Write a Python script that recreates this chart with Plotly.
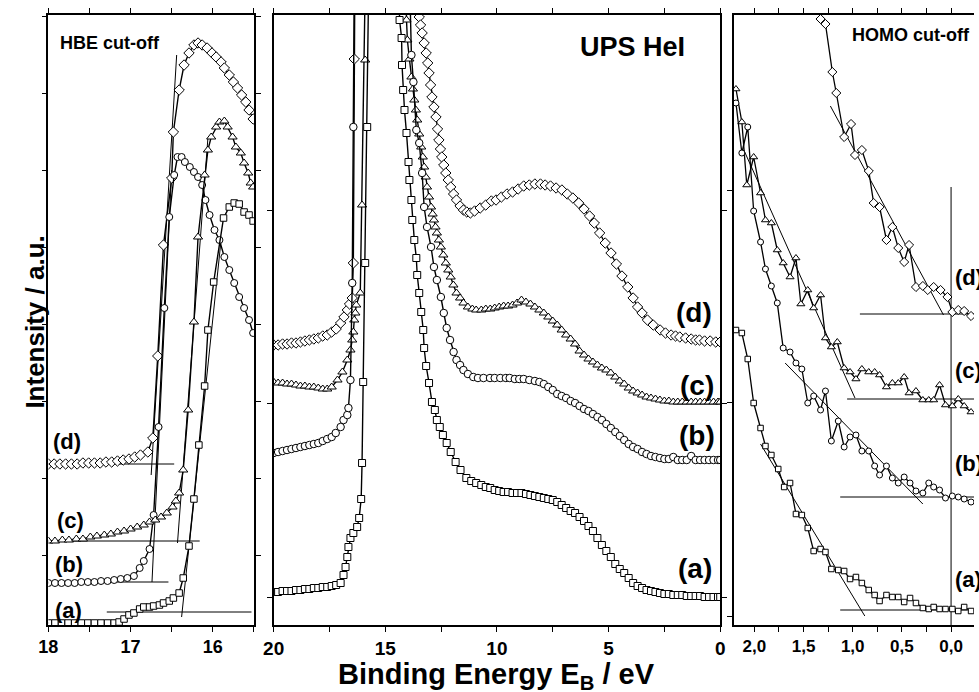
import plotly.graph_objects as go

# ---------------- Panel 1: HBE cut-off (binding energy, eV / intensity a.u.) ----------------
hbe_d_E = [18.00, 17.93, 17.86, 17.79, 17.72, 17.65, 17.58, 17.51, 17.44, 17.37, 17.30, 17.23, 17.16, 17.09,
           17.02, 16.95, 16.88, 16.79, 16.73, 16.67, 16.60, 16.50, 16.48, 16.41, 16.35, 16.29, 16.23, 16.18,
           16.13, 16.07, 16.01, 15.96, 15.90, 15.86, 15.80, 15.75, 15.70, 15.65, 15.60, 15.56, 15.51]
hbe_d_I = [91, 91, 91, 91, 91, 91, 92, 92, 92, 92, 93, 93, 94, 95,
           96, 98, 100, 103, 117, 199, 310, 377, 423, 465, 490, 502, 510, 512,
           510, 507, 502, 498, 493, 487, 480, 473, 467, 460, 453, 445, 436]

hbe_c_E = [18.00, 17.92, 17.83, 17.75, 17.66, 17.58, 17.49, 17.41, 17.32, 17.24, 17.16, 17.08, 17.00, 16.92,
           16.84, 16.77, 16.70, 16.63, 16.56, 16.49, 16.45, 16.41, 16.36, 16.30, 16.23, 16.18, 16.10, 16.06,
           16.02, 15.96, 15.92, 15.86, 15.82, 15.76, 15.72, 15.66, 15.62, 15.57, 15.54, 15.51]
hbe_c_I = [14, 14, 15, 15, 16, 16, 18, 19, 20, 21, 23, 24, 26, 28,
           30, 33, 35, 38, 42, 48, 54, 62, 85, 145, 233, 318, 380, 405,
           418, 428, 433, 434, 428, 418, 408, 402, 392, 382, 372, 368]

hbe_b_E = [18.00, 17.92, 17.84, 17.76, 17.68, 17.60, 17.52, 17.44, 17.36, 17.28, 17.20, 17.12, 17.04, 16.96,
           16.89, 16.84, 16.77, 16.72, 16.66, 16.59, 16.53, 16.47, 16.43, 16.38, 16.34, 16.28, 16.23, 16.18,
           16.13, 16.09, 16.04, 15.98, 15.92, 15.86, 15.80, 15.74, 15.68, 15.62, 15.56, 15.51]
hbe_b_I = [-28, -28, -28, -28, -28, -27, -27, -27, -26, -26, -25, -24, -23, -21,
           -13, -6, 6, 40, 128, 247, 338, 380, 398, 398, 393, 388, 383, 378,
           370, 355, 340, 325, 315, 298, 285, 272, 258, 247, 235, 222]

hbe_a_E = [18.00, 17.92, 17.84, 17.76, 17.68, 17.60, 17.52, 17.44, 17.36, 17.28, 17.20, 17.14, 17.08, 17.02,
           16.96, 16.89, 16.84, 16.77, 16.72, 16.65, 16.60, 16.53, 16.48, 16.41, 16.36, 16.29, 16.23, 16.17,
           16.10, 16.06, 15.99, 15.87, 15.80, 15.74, 15.68, 15.62, 15.56, 15.51]
hbe_a_I = [-68, -68, -68, -68, -68, -68, -68, -68, -68, -68, -68, -67, -64, -60,
           -58, -54, -52, -52, -51, -50, -48, -46, -43, -38, -23, 9, 56, 110,
           169, 225, 273, 337, 348, 352, 351, 343, 340, 334]

# tangent (fit) lines and baselines, panel 1
hbe_fit_E = {"d": [16.75, 16.44], "c": [16.43, 16.06], "b": [16.74, 16.50], "a": [16.38, 15.90]}
hbe_fit_I = {"d": [80, 500], "c": [12, 417], "b": [-27, 385], "a": [-62, 315]}
hbe_base_E = {"d": [18.0, 16.47], "c": [18.0, 16.16], "b": [18.0, 16.54], "a": [17.29, 15.53]}
hbe_base_I = {"d": 91, "c": 14, "b": -27, "a": -57}

# ---------------- Panel 2: full UPS HeI spectra ----------------
mid_a_E = [20.0, 19.8, 19.6, 19.4, 19.2, 19.0, 18.8, 18.6, 18.4, 18.2, 18.0, 17.8, 17.6, 17.4, 17.2, 17.0,
           16.87, 16.78, 16.70, 16.65, 16.56, 16.43, 16.26, 16.17, 16.08, 16.04, 15.99, 15.90, 15.81, 15.72,
           15.5, 14.6,
           14.36, 14.27, 14.25, 14.20, 14.14, 14.05, 13.96, 13.92, 13.83, 13.79, 13.70, 13.61, 13.57, 13.48,
           13.39, 13.30, 13.26, 13.17, 13.04, 12.91, 12.78, 12.69, 12.56, 12.42, 12.25, 12.07, 11.85, 11.63,
           11.37, 11.15, 10.93, 10.7, 10.5, 10.3, 10.1, 9.9, 9.7, 9.5, 9.3, 9.1, 8.9, 8.7, 8.5, 8.3, 8.1,
           7.9, 7.7, 7.5, 7.3, 7.1, 6.9, 6.7, 6.5, 6.3, 6.1, 5.9, 5.7, 5.5, 5.3, 5.1, 4.9, 4.7, 4.5, 4.3,
           4.1, 3.9, 3.7, 3.5, 3.3, 3.1, 2.9, 2.7, 2.5, 2.3, 2.1, 1.9, 1.7, 1.5, 1.3, 1.1, 0.9, 0.7, 0.5,
           0.3, 0.1, 0.0]
mid_a_I = [5, 5, 6, 6, 6, 7, 7, 8, 8, 9, 9, 10, 10, 11, 12, 14,
           22, 30, 40, 50, 59, 64, 70, 79, 98, 134, 215, 334, 470, 650,
           1200, 900,
           577, 559, 532, 507, 487, 464, 435, 417, 397, 377, 357, 339, 322, 304,
           285, 267, 249, 231, 214, 195, 187, 177, 170, 162, 154, 145, 135, 127,
           119, 116, 114, 112, 110, 109, 107, 106, 105, 105, 104, 104, 104, 103, 102, 101, 100,
           99, 98, 97, 95, 92, 89, 86, 84, 80, 76, 71, 66, 59, 52, 46, 40, 33, 28, 24,
           19, 14, 11, 9, 7, 6, 5, 4, 3, 3, 2, 2, 2, 1, 1, 1, 1, 0, 0,
           0, 0, 0]

mid_b_E = [20.0, 19.8, 19.6, 19.4, 19.2, 19.0, 18.8, 18.6, 18.4, 18.2, 18.0, 17.8, 17.6, 17.4, 17.22, 17.0,
           16.87, 16.70, 16.65, 16.56, 16.48, 16.43, 16.38, 15.8, 14.6, 14.0,
           13.83, 13.74, 13.61, 13.48, 13.35, 13.26, 13.13, 12.95, 12.82, 12.69, 12.51, 12.38, 12.25, 12.10,
           11.94, 11.81, 11.65, 11.50, 11.30, 11.06, 10.85, 10.6, 10.31, 10.1, 9.85, 9.6, 9.43, 9.2, 9.0,
           8.8, 8.55, 8.3, 8.1, 7.9, 7.7, 7.5, 7.3, 7.1, 6.9, 6.7, 6.5, 6.3, 6.1, 5.9, 5.7, 5.5, 5.3, 5.1,
           4.9, 4.7, 4.5, 4.3, 4.1, 3.9, 3.7, 3.5, 3.3, 3.1, 2.9, 2.7, 2.5, 2.3, 2.1, 1.9, 1.7, 1.5, 1.3,
           1.1, 0.9, 0.7, 0.5, 0.3, 0.1, 0.0]
mid_b_I = [144, 145, 146, 147, 148, 149, 150, 151, 152, 153, 154, 156, 158, 160, 164, 170,
           177, 182, 189, 217, 314, 470, 650, 1000, 1000, 700,
           542, 515, 467, 454, 424, 390, 370, 350, 330, 317, 300, 284, 269, 257,
           245, 237, 232, 227, 223, 220, 219, 219, 219, 219, 219, 219, 219, 218, 218,
           218, 217, 216, 215, 213, 210, 207, 203, 201, 199, 196, 194, 191, 188, 186, 183, 180, 177, 173,
           169, 165, 161, 157, 153, 150, 148, 145, 143, 141, 140, 139, 138, 138, 140, 137, 137, 137, 141,
           137, 137, 137, 137, 137, 137, 137]

mid_c_E = [20.0, 19.8, 19.6, 19.4, 19.2, 19.0, 18.8, 18.6, 18.4, 18.2, 18.0, 17.8, 17.6, 17.4, 17.14, 16.92,
           16.70, 16.56, 16.48, 16.43, 16.39, 16.34, 16.30, 16.12, 16.04, 15.90, 15.80, 15.0, 14.3,
           14.05, 14.01, 13.92, 13.83, 13.76, 13.70, 13.63, 13.57, 13.48, 13.39, 13.32, 13.26, 13.19, 13.13,
           13.04, 12.95, 12.88, 12.82, 12.75, 12.69, 12.60, 12.51, 12.40, 12.29, 12.18, 12.07, 11.95, 11.81,
           11.65, 11.50, 11.30, 11.10, 10.93, 10.7, 10.5, 10.3, 10.1, 9.9, 9.7, 9.5, 9.3, 9.1, 8.9, 8.7,
           8.5, 8.3, 8.1, 7.9, 7.7, 7.5, 7.3, 7.1, 6.9, 6.7, 6.5, 6.3, 6.1, 5.9, 5.7, 5.5, 5.3, 5.1, 4.9,
           4.7, 4.5, 4.3, 4.1, 3.9, 3.7, 3.5, 3.3, 3.1, 2.9, 2.7, 2.5, 2.3, 2.1, 1.9, 1.7, 1.5, 1.3, 1.1,
           0.9, 0.7, 0.5, 0.3, 0.1, 0.0]
mid_c_I = [215, 214, 214, 213, 213, 212, 211, 211, 210, 210, 209, 208, 208, 210, 217, 225,
           237, 247, 257, 265, 277, 284, 292, 304, 392, 537, 750, 1100, 900,
           577, 557, 538, 520, 508, 497, 487, 477, 463, 450, 440, 430, 420, 410,
           400, 390, 383, 377, 370, 364, 357, 350, 342, 334, 327, 320, 312, 304,
           299, 294, 290, 288, 287, 287, 288, 288, 289, 290, 291, 291, 292, 294, 297, 295,
           293, 290, 287, 284, 280, 276, 272, 267, 262, 258, 253, 246, 242, 238, 235, 232, 229, 227, 224,
           220, 216, 213, 209, 206, 204, 202, 200, 199, 198, 197, 196, 196, 195, 195, 195, 195, 195, 195,
           195, 195, 195, 195, 195, 195]

mid_d_E = [20.0, 19.8, 19.6, 19.4, 19.2, 19.0, 18.8, 18.6, 18.4, 18.2, 18.0, 17.8, 17.6, 17.4, 17.2, 17.0,
           16.85, 16.70, 16.60, 16.48, 16.43, 16.39, 16.32, 15.5, 14.3, 13.7,
           13.48, 13.42, 13.35, 13.26, 13.17, 13.10, 13.04, 12.97, 12.91, 12.82, 12.73, 12.66, 12.60, 12.53,
           12.47, 12.38, 12.29, 12.18, 12.07, 11.94, 11.81, 11.65, 11.50, 11.35, 11.19, 11.0, 10.75, 10.5,
           10.25, 10.04, 9.8, 9.55, 9.3, 9.05, 8.8, 8.55, 8.3, 8.05, 7.84, 7.6, 7.35, 7.09, 6.85, 6.6, 6.34,
           6.1, 5.85, 5.64, 5.4, 5.15, 4.89, 4.65, 4.4, 4.14, 3.9, 3.7, 3.5, 3.26, 3.0, 2.69, 2.45, 2.2,
           2.0, 1.81, 1.55, 1.3, 1.1, 0.93, 0.7, 0.45, 0.2, 0.0]
mid_d_I = [252, 252, 253, 253, 254, 254, 255, 256, 257, 258, 259, 261, 262, 265, 268, 274,
           280, 287, 293, 299, 334, 538, 800, 1200, 1100, 700,
           580, 572, 564, 554, 544, 534, 524, 512, 500, 490, 480, 468, 457, 448,
           440, 432, 424, 417, 410, 403, 397, 391, 387, 385, 384, 386, 389, 392,
           396, 397, 400, 403, 405, 408, 411, 412, 413, 413, 412, 411, 409, 407, 403, 399, 394,
           388, 381, 374, 364, 354, 344, 333, 321, 310, 299, 290, 284, 277, 272, 267, 264, 262,
           261, 260, 259, 258, 257, 257, 256, 256, 255, 255]

# ---------------- Panel 3: HOMO cut-off ----------------
homo_d_E = [1.40, 1.327, 1.277, 1.207, 1.167, 1.087, 1.017, 0.977, 0.907, 0.837, 0.787, 0.727, 0.657, 0.597,
            0.537, 0.477, 0.427, 0.357, 0.287, 0.237, 0.177, 0.107, 0.037, -0.013, -0.073, -0.133, -0.203]
homo_d_I = [700, 597, 592, 544, 523, 479, 492, 461, 466, 445, 413, 409, 376, 389,
            368, 354, 371, 329, 330, 326, 329, 326, 319, 304, 306, 305, 300]

homo_c_E = [2.187, 2.127, 2.077, 2.007, 1.937, 1.887, 1.827, 1.767, 1.707, 1.637, 1.577, 1.527, 1.457, 1.397,
            1.327, 1.277, 1.217, 1.157, 1.087, 1.027, 0.967, 0.907, 0.837, 0.777, 0.727, 0.657, 0.597, 0.537,
            0.477, 0.427, 0.357, 0.287, 0.227, 0.177, 0.117, 0.057, -0.013, -0.073, -0.133, -0.203]
homo_c_I = [527, 494, 431, 459, 423, 396, 393, 366, 353, 339, 358, 312, 326, 308,
            321, 278, 269, 274, 248, 244, 237, 247, 244, 244, 241, 229, 233, 233,
            239, 223, 225, 216, 216, 216, 231, 211, 210, 217, 210, 204]

homo_b_E = [2.187, 2.127, 2.067, 2.007, 1.937, 1.887, 1.827, 1.767, 1.707, 1.637, 1.577, 1.517, 1.457, 1.397,
            1.327, 1.277, 1.217, 1.147, 1.087, 1.027, 0.967, 0.907, 0.837, 0.777, 0.727, 0.657, 0.597, 0.537,
            0.477, 0.417, 0.357, 0.287, 0.227, 0.177, 0.117, 0.057, -0.013, -0.073, -0.133, -0.203]
homo_b_I = [513, 463, 489, 405, 374, 347, 330, 313, 268, 264, 253, 247, 213, 220,
            206, 225, 175, 195, 169, 179, 181, 165, 165, 150, 141, 150, 138, 133,
            139, 133, 125, 123, 133, 129, 126, 118, 120, 119, 117, 114]

homo_a_E = [2.187, 2.127, 2.067, 2.007, 1.937, 1.887, 1.827, 1.757, 1.697, 1.637, 1.577, 1.517, 1.457, 1.397,
            1.327, 1.277, 1.217, 1.147, 1.087, 1.027, 0.967, 0.907, 0.837, 0.777, 0.727, 0.657, 0.597, 0.537,
            0.477, 0.417, 0.357, 0.287, 0.227, 0.177, 0.117, 0.057, -0.013, -0.073, -0.133, -0.203]
homo_a_I = [286, 283, 257, 213, 188, 170, 161, 147, 129, 133, 102, 101, 88, 65,
            67, 64, 47, 46, 45, 37, 39, 33, 26, 21, 15, 21, 19, 19,
            14, 18, 13, 8, 7, 9, 7, 7, 7, 5, 9, 5]

homo_fit_E = {"d": [1.227, 0.077], "c": [2.107, 0.977], "b": [1.687, 0.287], "a": [1.937, 0.877]}
homo_fit_I = {"d": [510, 301], "c": [466, 218], "b": [253, 112], "a": [172, 0]}
homo_base_E = {"d": [0.927, -0.3], "c": [1.057, -0.3], "b": [1.127, -0.3], "a": [1.127, -0.3]}
homo_base_I = {"d": 302, "c": 217, "b": 119, "a": 6}
homo_vline_I = [429, -20]

# ---------------- labels ----------------
series_labels = ["(a)", "(b)", "(c)", "(d)"]
x1_ticks = [18, 17.5, 17, 16.5, 16, 15.5]
x1_text = ["18", "", "17", "", "16", ""]
x2_ticks = [20, 17.5, 15, 12.5, 10, 7.5, 5, 2.5, 0]
x2_text = ["20", "", "15", "", "10", "", "5", "", "0"]
x3_ticks = [2.0, 1.75, 1.5, 1.25, 1.0, 0.75, 0.5, 0.25, 0.0, -0.25]
x3_text = ["2,0", "", "1,5", "", "1,0", "", "0,5", "", "0,0", ""]

W, H = 979, 692
FONT = "Liberation Sans, Arial, Helvetica, sans-serif"


def px(x):
    return x / W


def py(y):
    return 1 - y / H


fig = go.Figure()


def add_series(E, I, sym, xa, ya, size, lw=1.4):
    fig.add_trace(go.Scatter(
        x=E, y=I, mode="lines+markers", xaxis=xa, yaxis=ya,
        line=dict(color="black", width=lw),
        marker=dict(symbol=sym, size=size, color="white", line=dict(color="black", width=1)),
        showlegend=False, hoverinfo="skip"))


def add_line(E, I, xa, ya, lw=1.0):
    fig.add_trace(go.Scatter(
        x=E, y=I, mode="lines", xaxis=xa, yaxis=ya,
        line=dict(color="black", width=lw), showlegend=False, hoverinfo="skip"))


# panel 1
for k in ["d", "c", "b", "a"]:
    add_line(hbe_base_E[k], [hbe_base_I[k]] * 2, "x", "y")
    add_line(hbe_fit_E[k], hbe_fit_I[k], "x", "y")
add_series(hbe_d_E, hbe_d_I, "diamond", "x", "y", 8)
add_series(hbe_b_E, hbe_b_I, "circle", "x", "y", 7)
add_series(hbe_c_E, hbe_c_I, "triangle-up", "x", "y", 8)
add_series(hbe_a_E, hbe_a_I, "square", "x", "y", 6.5)

# panel 2
add_series(mid_d_E, mid_d_I, "diamond", "x2", "y2", 8)
add_series(mid_c_E, mid_c_I, "triangle-up", "x2", "y2", 8)
add_series(mid_b_E, mid_b_I, "circle", "x2", "y2", 7.5)
add_series(mid_a_E, mid_a_I, "square", "x2", "y2", 7)

# panel 3
for k in ["d", "c", "b", "a"]:
    add_line(homo_base_E[k], [homo_base_I[k]] * 2, "x3", "y3")
    add_line(homo_fit_E[k], homo_fit_I[k], "x3", "y3")
add_line([0.0, 0.0], homo_vline_I, "x3", "y3")
add_series(homo_d_E, homo_d_I, "diamond", "x3", "y3", 7, 1.3)
add_series(homo_c_E, homo_c_I, "triangle-up", "x3", "y3", 7, 1.3)
add_series(homo_b_E, homo_b_I, "circle", "x3", "y3", 6, 1.3)
add_series(homo_a_E, homo_a_I, "square", "x3", "y3", 5.5, 1.3)

ydom = [py(625), py(15)]
axis_common = dict(showline=True, linecolor="black", linewidth=1.5, ticks="outside", ticklen=5,
                   tickcolor="black", tickwidth=1.2, showgrid=False, zeroline=False)

fig.update_layout(
    width=W, height=H, margin=dict(l=0, r=0, t=0, b=0),
    paper_bgcolor="white", plot_bgcolor="white",
    font=dict(family=FONT, color="black"),
    xaxis=dict(domain=[px(38), px(247)], range=[18, 15.5], anchor="y", mirror="ticks",
               tickvals=x1_ticks, ticktext=["<b>%s</b>" % t if t else " " for t in x1_text],
               tickfont=dict(size=18), **axis_common),
    yaxis=dict(domain=ydom, range=[-70, 540], anchor="x", mirror="ticks",
               tickvals=[0, 76.9, 153.8, 230.7, 307.6, 384.5, 461.4, 538.3], showticklabels=False,
               **axis_common),
    xaxis2=dict(domain=[px(267), px(721)], range=[20, 0], anchor="y2", mirror="ticks",
                tickvals=x2_ticks, ticktext=["<b>%s</b>" % t if t else " " for t in x2_text],
                tickfont=dict(size=19), **axis_common),
    yaxis2=dict(domain=ydom, range=[-28, 582], anchor="x2", mirror="ticks",
                tickvals=[0, 194, 387], showticklabels=False, **axis_common),
    xaxis3=dict(domain=[px(735), 1.0], range=[2.207, -0.233], anchor="y3", mirror="ticks",
                tickvals=x3_ticks, ticktext=["<b>%s</b>" % t if t else " " for t in x3_text],
                tickfont=dict(size=17), **axis_common),
    yaxis3=dict(domain=ydom, range=[-9, 601], anchor="x3", mirror=False,
                tickvals=[0, 214, 426], showticklabels=False, **axis_common),
)

ann = []


def add_text(text, x, y, size, xanchor="center", angle=0):
    ann.append(dict(text="<b>%s</b>" % text, x=px(x), y=py(y), xref="paper", yref="paper",
                    xanchor=xanchor, yanchor="middle", showarrow=False, textangle=angle,
                    font=dict(size=size, family=FONT, color="black")))


add_text("HBE cut-off", 101, 43, 18)
add_text("UPS HeI", 632, 47, 27)
add_text("HOMO cut-off", 853, 35, 18, xanchor="left")
for lab, (x, y) in zip(series_labels, [(58, 610), (59, 564), (60, 520), (57, 441)]):
    add_text(lab, x, y, 22)
for lab, (x, y) in zip(series_labels, [(695, 568), (697, 435), (697, 385), (694, 312)]):
    add_text(lab, x, y, 28)
for lab, (x, y) in zip(series_labels, [(958, 579), (958, 463), (958, 370), (958, 277)]):
    add_text(lab, x, y, 22, xanchor="left")
add_text("Intensity / a.u.", 24, 322, 26, angle=-90)
add_text("Binding Energy E<sub>B</sub> / eV", 494, 676, 29)

fig.update_layout(annotations=ann)
fig.write_html(
    "out.html",
    post_script="document.body.style.margin='0px';document.body.style.padding='0px';"
                "document.body.style.overflow='hidden';",
)
